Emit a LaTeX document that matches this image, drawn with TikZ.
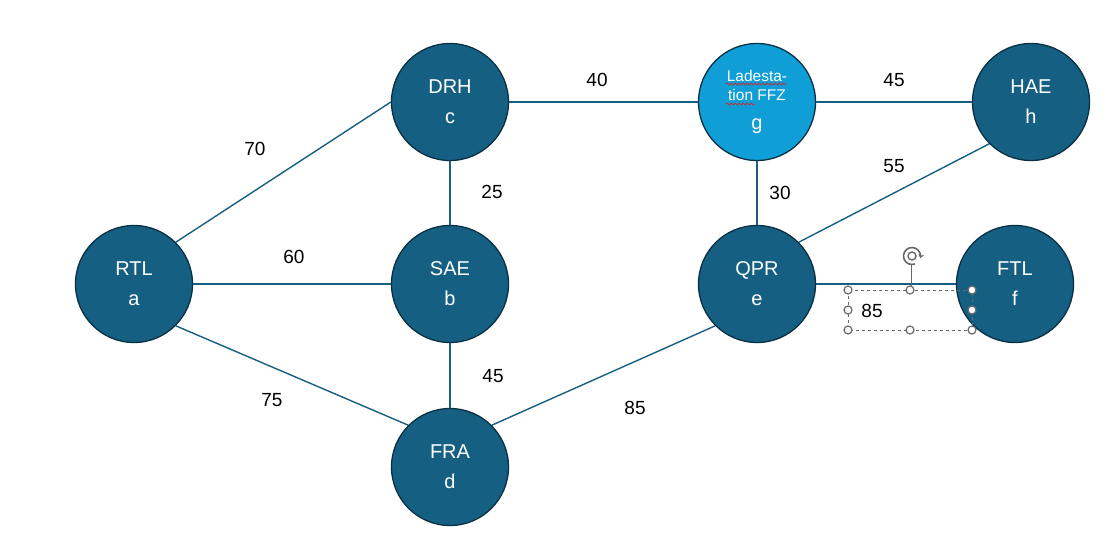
\documentclass[tikz,border=0pt]{standalone}
\usepackage{fontspec}
\setmainfont{Liberation Sans}
\usepackage{xcolor}
\usetikzlibrary{arrows.meta,positioning,decorations.pathmorphing}
\definecolor{stopteal}{RGB}{21,96,130}
\definecolor{stoprim}{RGB}{10,48,68}
\definecolor{ffzblue}{RGB}{15,158,213}
\definecolor{handlegray}{RGB}{105,105,105}
\definecolor{spellred}{RGB}{220,30,30}
\tikzset{
  stop/.style={circle, draw=stoprim, line width=1.3pt, fill=stopteal, minimum size=117pt,
    inner sep=0pt, text=white, align=center, font=\fontsize{20}{30}\selectfont},
  charge/.style={stop, fill=ffzblue, font=\fontsize{15.5}{19}\selectfont},
  link/.style={draw=stopteal, line width=1.4pt},
  dist/.style={font=\fontsize{19}{22}\selectfont, text=black, inner sep=0pt},
  handle/.style={circle, draw=handlegray, fill=white, line width=1.2pt, minimum size=8pt, inner sep=0pt},
  squiggle/.style={spellred, line width=0.7pt, decorate, decoration={snake, amplitude=1pt, segment length=4pt}}
}

\begin{document}
\begin{tikzpicture}[x=1pt,y=-1pt]
  \useasboundingbox (0,0) rectangle (1112,555);
  % stations
  \node[stop] (rtl) at (134,284) {RTL\\a};
  \node[stop] (drh) at (450,102) {DRH\\c};
  \node[stop] (sae) at (450,284) {SAE\\b};
  \node[stop] (fra) at (450,467) {FRA\\d};
  \node[charge] (ffz) at (757,102) {Ladesta-\\tion FFZ\\[10pt]\fontsize{20}{19}\selectfont g};
  \node[stop] (hae) at (1031,102) {HAE\\h};
  \node[stop] (qpr) at (757,284) {QPR\\e};
  \node[stop] (ftl) at (1015,284) {FTL\\f};

  % connections
  \foreach \from/\to in {rtl.north east/drh.west, rtl.east/sae.west, rtl.south east/fra.north west,
      drh.south/sae.north, sae.south/fra.north, drh.east/ffz.west, ffz.east/hae.west,
      ffz.south/qpr.north, hae.south west/qpr.north east, qpr.east/ftl.west, qpr.south west/fra.north east}
    \draw[link] (\from) -- (\to);

  % distances
  \foreach \name/\x/\y/\km in {dac/255/149/70, dab/294/257/60, dad/272/400/75, dcb/492/192/25,
      dbd/493/376/45, dcg/597/80/40, ded/635/408/85, dgh/894/80/45, dge/780/193/30, dhe/894/166/55, def/872/311/85}
    \node[dist] (\name) at (\x,\y) {\km};

  % spell check marks
  \draw[squiggle] (726,84) -- (786,84);
  \draw[squiggle] (726,104) -- (755,104);

  % selection frame round the 85
  \draw[handlegray, dashed, line width=0.8pt] (848,290) rectangle (972,330);
  \draw[handlegray, line width=1pt] (911,290) -- (911,265);
  \foreach \hx/\hy in {848/290, 910/290, 972/290, 848/310, 972/310, 848/330, 910/330, 972/330}
    \node[handle] at (\hx,\hy) {};
  \draw[handlegray, line width=1.6pt, -{Stealth[length=4pt,width=6pt]}] (914.9,264) arc[start angle=70, end angle=375, radius=8.5];
  \draw[handlegray, line width=1.4pt] (912,256) circle[radius=4];
\end{tikzpicture}
\end{document}
